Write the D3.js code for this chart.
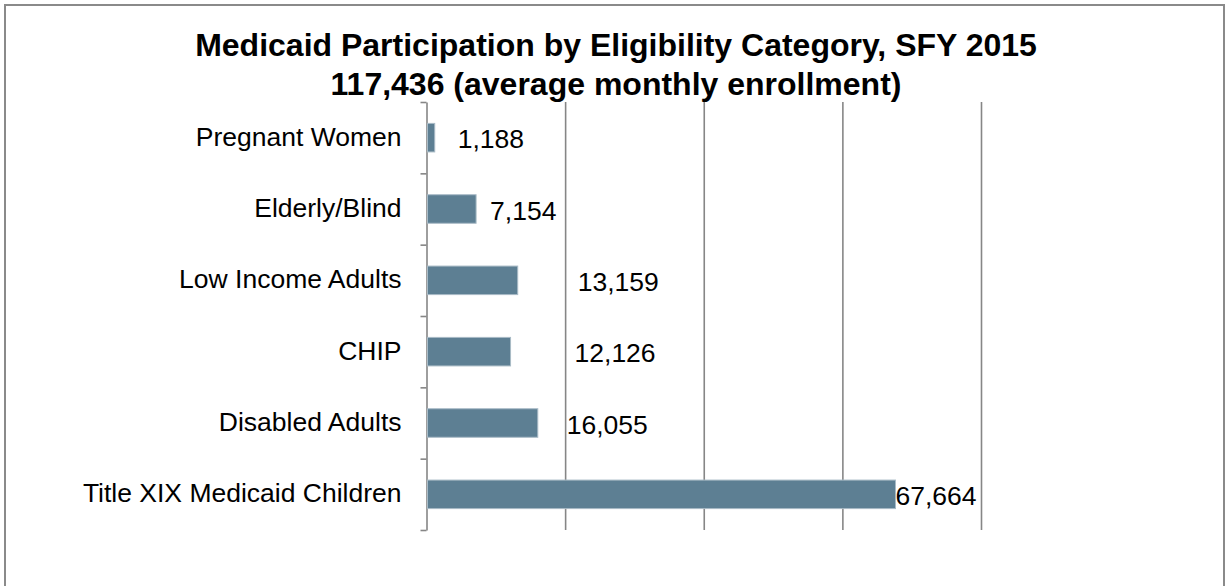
<!DOCTYPE html>
<html>
<head>
<meta charset="utf-8">
<script src="https://cdn.jsdelivr.net/npm/d3@7"></script>
<style>
  body { margin: 0; background: #fff; }
  svg { display: block; font-family: Arial, "Liberation Sans", sans-serif; }
  .axis path, .axis line { stroke: #868686; stroke-width: 1.6; }
  .grid line { stroke: #868686; stroke-width: 1.6; }
  .grid path { display: none; }
  .cat-label { font-size: 26.5px; fill: #000; }
  .val-label { font-size: 26.5px; fill: #000; }
  .chart-title { font-size: 32px; font-weight: bold; fill: #000; }
</style>
</head>
<body>
<div id="chart"></div>
<script>
// chart data, top to bottom as drawn
var categories = ["Pregnant Women", "Elderly/Blind", "Low Income Adults", "CHIP", "Disabled Adults", "Title XIX Medicaid Children"];
var enrollment = [1188, 7154, 13159, 12126, 16055, 67664];
var gridTicks = [20000, 40000, 60000, 80000];
var titleLines = ["Medicaid Participation by Eligibility Category, SFY 2015", "117,436 (average monthly enrollment)"];
// labels were nudged by hand in the original, px right of the bar end
var labelNudge = [23, 14, 60, 64, 29, 0];

var width = 1225, height = 586;
var plot = { left: 426.5, right: 981, top: 102, bottom: 530 };

var data = categories.map(function (c, i) {
    return { cat: c, value: enrollment[i], nudge: labelNudge[i] };
});

var svg = d3.select("#chart").append("svg")
    .attr("width", width)
    .attr("height", height);

// outer frame
svg.append("rect")
    .attr("x", 5)
    .attr("y", 5)
    .attr("width", 1219)
    .attr("height", 600)
    .attr("fill", "none")
    .attr("stroke", "#8a8a8a")
    .attr("stroke-width", 2);

var x = d3.scaleLinear().domain([0, 80000]).range([plot.left, plot.right]);
var y = d3.scaleBand()
    .domain(categories)
    .range([plot.top, plot.bottom])
    .paddingInner(0.6)
    .paddingOuter(0.3);
var yEdges = d3.scaleLinear().domain([0, categories.length]).range([plot.top, plot.bottom]);

// vertical gridlines
svg.append("g")
    .attr("class", "grid")
    .attr("transform", "translate(0," + plot.bottom + ")")
    .call(d3.axisBottom(x).tickValues(gridTicks).tickSize(-(plot.bottom - plot.top)).tickFormat(""));

// category axis with ticks between the bands
svg.append("g")
    .attr("class", "axis")
    .attr("transform", "translate(" + plot.left + ",0)")
    .call(d3.axisLeft(yEdges).tickValues(d3.range(categories.length + 1)).tickSize(6).tickSizeOuter(0).tickFormat(""));

svg.selectAll(".bar")
    .data(data)
    .enter().append("rect")
    .attr("class", "bar")
    .attr("x", x(0) + 1)
    .attr("y", function (d) { return y(d.cat); })
    .attr("width", function (d) { return x(d.value) - x(0) - 1; })
    .attr("height", y.bandwidth())
    .attr("fill", "#5d7f93")
    .attr("stroke", "#a9bbc6")
    .attr("stroke-width", 1);

svg.selectAll(".cat-label")
    .data(data)
    .enter().append("text")
    .attr("class", "cat-label")
    .attr("x", plot.left - 25)
    .attr("y", function (d) { return y(d.cat) + y.bandwidth() / 2; })
    .attr("dy", "0.3em")
    .attr("text-anchor", "end")
    .text(function (d) { return d.cat; });

svg.selectAll(".val-label")
    .data(data)
    .enter().append("text")
    .attr("class", "val-label")
    .attr("x", function (d) { return x(d.value) + d.nudge; })
    .attr("y", function (d) { return y(d.cat) + y.bandwidth() / 2; })
    .attr("dy", "0.4em")
    .text(function (d) { return d3.format(",")(d.value); });

svg.selectAll(".chart-title")
    .data(titleLines)
    .enter().append("text")
    .attr("class", "chart-title")
    .attr("x", 616)
    .attr("y", function (d, i) { return 56 + i * 39; })
    .attr("text-anchor", "middle")
    .text(function (d) { return d; });
</script>
</body>
</html>
